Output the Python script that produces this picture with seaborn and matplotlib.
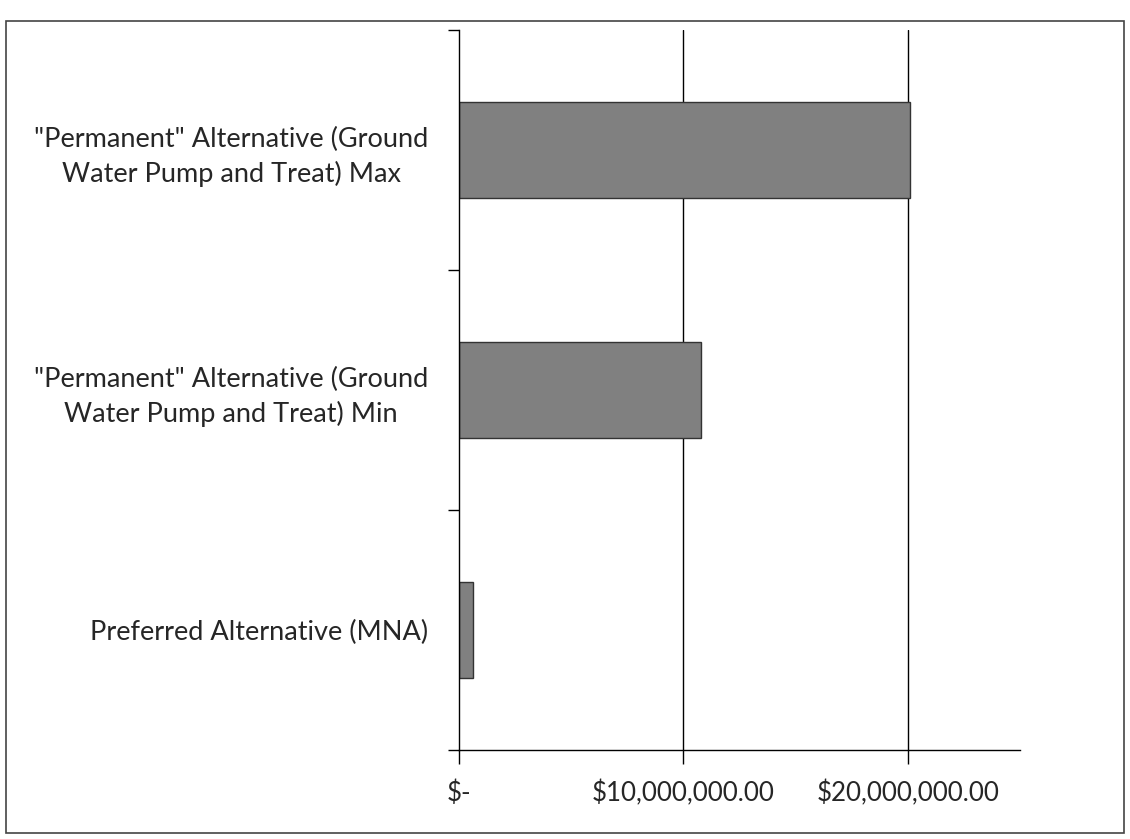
import numpy as np
import matplotlib.pyplot as plt
import pandas as pd
import seaborn as sns
from matplotlib.ticker import FixedLocator, NullFormatter

categories = [
    '"Permanent" Alternative (Ground\nWater Pump and Treat) Max',
    '"Permanent" Alternative (Ground\nWater Pump and Treat) Min',
    'Preferred Alternative (MNA)',
]
costs = [20100000, 10800000, 650000]
tick_values = [0, 10000000, 20000000]
tick_labels = ['$-', '$10,000,000.00', '$20,000,000.00']

df = pd.DataFrame({'alternative': categories, 'cost': costs})

sns.set_style('white')
plt.rcParams['font.family'] = ['Lato', 'DejaVu Sans']

fig = plt.figure(figsize=(11.3, 8.39), dpi=100)
ax = fig.add_axes([0.406, 0.106, 0.497, 0.858])

sns.barplot(data=df, x='cost', y='alternative', orient='h', color='#808080',
            edgecolor='#333333', linewidth=1, width=0.4, saturation=1, ax=ax)

ax.set_xlim(0, 25000000)
ax.set_ylim(2.5, -0.5)
ax.set_xlabel('')
ax.set_ylabel('')

# vertical gridlines at the major ticks
ax.set_xticks(tick_values)
ax.set_xticklabels(tick_labels, fontsize=18.6)
for v in tick_values[1:]:
    ax.axvline(v, color='black', linewidth=1, zorder=0)

# category labels sit between the tick marks
ax.yaxis.set_major_locator(FixedLocator([-0.5, 0.5, 1.5, 2.5]))
ax.yaxis.set_major_formatter(NullFormatter())
ax.yaxis.set_minor_locator(FixedLocator([0, 1, 2]))
ax.set_yticklabels(categories, minor=True, fontsize=19.5, multialignment='center',
                   linespacing=1.4)
ax.tick_params(axis='y', which='major', direction='out', length=8, width=1, color='black', left=True)
ax.tick_params(axis='y', which='minor', length=0, pad=22)
ax.tick_params(axis='x', direction='out', length=10, width=1, color='black', pad=12, bottom=True)

for side in ['top', 'right']:
    ax.spines[side].set_visible(False)
for side in ['left', 'bottom']:
    ax.spines[side].set_color('black')
    ax.spines[side].set_linewidth(1)

# outer chart border
fig.patches.append(plt.Rectangle((0.005, 0.007), 0.99, 0.968, transform=fig.transFigure,
                                 fill=False, edgecolor='#444444', linewidth=1.2))

fig.savefig('out.png', dpi=100)
